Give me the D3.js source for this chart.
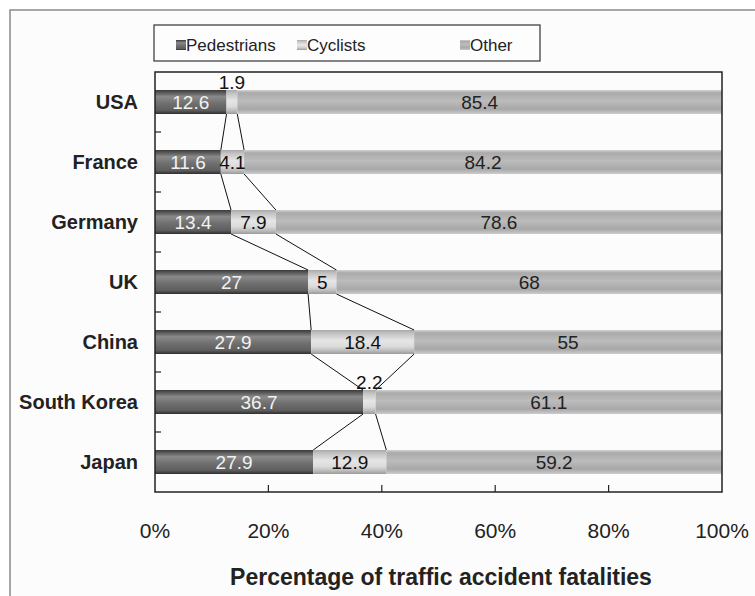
<!DOCTYPE html>
<html>
<head>
<meta charset="utf-8">
<script src="https://cdn.jsdelivr.net/npm/d3@7/dist/d3.min.js"></script>
<style>
  html, body { margin: 0; padding: 0; background: #ffffff; }
  svg { display: block; }
</style>
</head>
<body>
<svg id="chart" width="755" height="596"></svg>
<script>
// Share of traffic accident fatalities by road-user type
const countries   = ["USA", "France", "Germany", "UK", "China", "South Korea", "Japan"];
const pedestrians = [12.6, 11.6, 13.4, 27, 27.9, 36.7, 27.9];
const cyclists    = [1.9, 4.1, 7.9, 5, 18.4, 2.2, 12.9];
const other       = [85.4, 84.2, 78.6, 68, 55, 61.1, 59.2];
const seriesNames = ["Pedestrians", "Cyclists", "Other"];
const tickValues  = [0, 20, 40, 60, 80, 100];

const svg = d3.select("#chart");
const font = "Liberation Sans, Arial, sans-serif";

// Outer panel frame
svg.append("rect").attr("x", 10).attr("y", 10).attr("width", 760).attr("height", 600)
  .attr("fill", "#fcfcfc").attr("stroke", "#8a8a8a").attr("stroke-width", 1.5);

const plot = { left: 155, top: 72, right: 722, bottom: 492 };

// 100% stacked: each row is expanded to its own total
const x = d3.scaleLinear().domain([0, 1]).range([plot.left, plot.right]);
const y = d3.scaleBand().domain(countries).range([plot.top, plot.bottom]).paddingInner(0.6).paddingOuter(0.3);

// Vertical shading gradients for each segment type
const defs = svg.append("defs");
const grads = {
  Pedestrians: [["0%", "#3a3a3a"], ["12%", "#5c5c5c"], ["28%", "#8a8a8a"], ["55%", "#707070"], ["85%", "#5e5e5e"], ["100%", "#2e2e2e"]],
  Cyclists:    [["0%", "#a9a9a9"], ["15%", "#c4c4c4"], ["45%", "#e6e6e6"], ["70%", "#dadada"], ["88%", "#b8b8b8"], ["100%", "#9a9a9a"]],
  Other:       [["0%", "#d2d2d2"], ["12%", "#aaaaaa"], ["45%", "#bcbcbc"], ["80%", "#a8a8a8"], ["100%", "#cccccc"]]
};
Object.entries(grads).forEach(([name, stops]) => {
  const g = defs.append("linearGradient").attr("id", "g-" + name)
    .attr("x1", 0).attr("y1", 0).attr("x2", 0).attr("y2", 1);
  stops.forEach(([o, c]) => g.append("stop").attr("offset", o).attr("stop-color", c));
});

// Stack the series
const rows = countries.map((c, i) => ({ country: c, Pedestrians: pedestrians[i], Cyclists: cyclists[i], Other: other[i] }));
const stacked = d3.stack().keys(seriesNames).offset(d3.stackOffsetExpand)(rows);

// Bars
stacked.forEach(layer => {
  svg.append("g").selectAll("rect").data(layer).join("rect")
    .attr("x", d => x(d[0]))
    .attr("y", d => y(d.data.country))
    .attr("width", d => x(d[1]) - x(d[0]))
    .attr("height", y.bandwidth())
    .attr("fill", "url(#g-" + layer.key + ")");
});

// Series lines linking segment boundaries between adjacent bars
const lineG = svg.append("g").attr("stroke", "#111").attr("stroke-width", 1).attr("fill", "none");
[0, 1].forEach(k => {
  const layer = stacked[k];
  for (let i = 0; i < layer.length - 1; i++) {
    const a = layer[i], b = layer[i + 1];
    lineG.append("line")
      .attr("x1", x(a[1])).attr("y1", y(a.data.country) + y.bandwidth())
      .attr("x2", x(b[1])).attr("y2", y(b.data.country));
  }
});

// Value labels
const labelColor = { Pedestrians: "#f2f2f2", Cyclists: "#111", Other: "#222" };
stacked.forEach(layer => {
  svg.append("g").selectAll("text").data(layer).join("text")
    .attr("x", d => (x(d[0]) + x(d[1])) / 2)
    .attr("y", d => {
      const v = d.data[layer.key];
      return v < 3 ? y(d.data.country) - 1 : y(d.data.country) + y.bandwidth() / 2 + 7;
    })
    .attr("text-anchor", "middle")
    .attr("font-family", font).attr("font-size", 19)
    .attr("fill", d => d.data[layer.key] < 3 ? "#111" : labelColor[layer.key])
    .text(d => d.data[layer.key]);
});

// Plot frame
svg.append("rect").attr("x", plot.left).attr("y", plot.top)
  .attr("width", plot.right - plot.left).attr("height", plot.bottom - plot.top)
  .attr("fill", "none").attr("stroke", "#222").attr("stroke-width", 1.5);

// Category boundary ticks on the left axis
const step = y.step();
const bounds = d3.range(1, countries.length).map(i => y(countries[i]) - step * y.paddingInner() / 2);
svg.append("g").selectAll("line").data(bounds).join("line")
  .attr("x1", plot.left).attr("x2", plot.left + 6)
  .attr("y1", d => d).attr("y2", d => d)
  .attr("stroke", "#222").attr("stroke-width", 1.2);

// Bottom axis ticks (inward) and labels
svg.append("g").selectAll("line").data(tickValues.slice(1, -1)).join("line")
  .attr("x1", d => x(d / 100)).attr("x2", d => x(d / 100))
  .attr("y1", plot.bottom).attr("y2", plot.bottom - 7)
  .attr("stroke", "#222").attr("stroke-width", 1.2);
svg.append("g").selectAll("text").data(tickValues).join("text")
  .attr("x", d => x(d / 100)).attr("y", 538)
  .attr("text-anchor", "middle")
  .attr("font-family", font).attr("font-size", 21).attr("fill", "#222")
  .text(d => d + "%");

// Category labels
svg.append("g").selectAll("text").data(countries).join("text")
  .attr("x", 138).attr("y", d => y(d) + y.bandwidth() / 2 + 7)
  .attr("text-anchor", "end")
  .attr("font-family", font).attr("font-size", 20).attr("font-weight", "bold").attr("fill", "#222")
  .text(d => d);

// Axis title
svg.append("text").attr("x", 441).attr("y", 585).attr("text-anchor", "middle")
  .attr("font-family", font).attr("font-size", 23).attr("font-weight", "bold").attr("fill", "#222")
  .text("Percentage of traffic accident fatalities");

// Legend
const legend = svg.append("g");
legend.append("rect").attr("x", 154).attr("y", 25).attr("width", 386).attr("height", 36)
  .attr("fill", "#fdfdfd").attr("stroke", "#333").attr("stroke-width", 1.2);
const legendX = [176, 297, 460];
seriesNames.forEach((name, i) => {
  legend.append("rect").attr("x", legendX[i]).attr("y", 40).attr("width", 10).attr("height", 10)
    .attr("fill", "url(#g-" + name + ")");
  legend.append("text").attr("x", legendX[i] + 10).attr("y", 51)
    .attr("font-family", font).attr("font-size", 17).attr("fill", "#222")
    .text(name);
});
</script>
</body>
</html>
